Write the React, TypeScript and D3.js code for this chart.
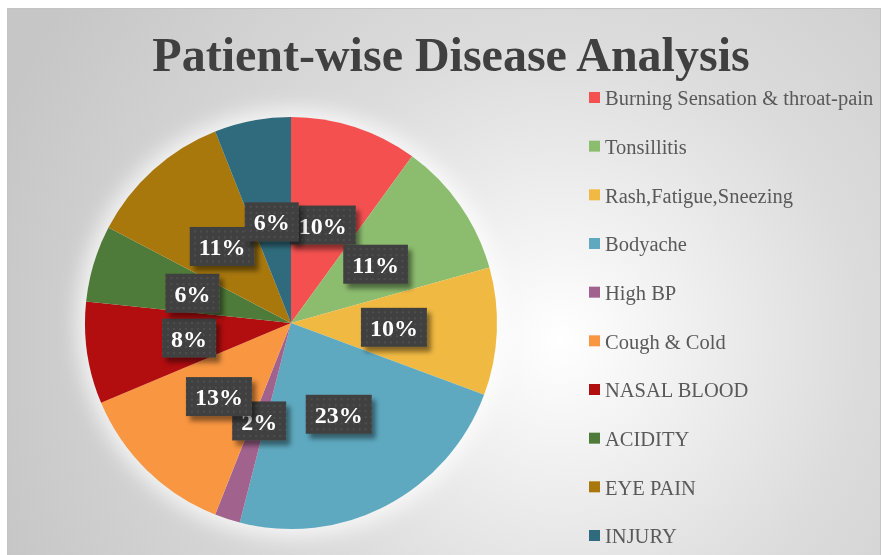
import React, { useEffect, useRef } from 'react'
import * as d3 from 'd3'

// patient counts per disease
const diseases = [
  'Burning Sensation & throat-pain',
  'Tonsillitis',
  'Rash,Fatigue,Sneezing',
  'Bodyache',
  'High BP',
  'Cough & Cold',
  'NASAL BLOOD',
  'ACIDITY',
  'EYE PAIN',
  'INJURY',
]
const patients = [15, 16, 15, 35, 3, 19, 12, 9, 17, 9]
const colors = [
  '#F45050', '#8CBD6F', '#F0B942', '#5EA9C0', '#A2628E',
  '#F89641', '#B20D0F', '#4F7B3A', '#A8780D', '#2F6B7C',
]

const title = 'Patient-wise Disease Analysis'

const W = 883
const H = 555

const App = () => {
  const ref = useRef<SVGSVGElement>(null)

  useEffect(() => {
    const svg = d3.select(ref.current)
    svg.selectAll('*').remove()

    const defs = svg.append('defs')
    const bg = defs.append('radialGradient')
      .attr('id', 'bg')
      .attr('gradientUnits', 'userSpaceOnUse')
      .attr('cx', 560).attr('cy', 340).attr('r', 600)
    bg.append('stop').attr('offset', 0).attr('stop-color', '#ffffff')
    bg.append('stop').attr('offset', 0.5).attr('stop-color', '#dcdcdc')
    bg.append('stop').attr('offset', 1).attr('stop-color', '#c6c6c6')

    const glow = defs.append('filter').attr('id', 'glow')
      .attr('x', '-30%').attr('y', '-30%').attr('width', '160%').attr('height', '160%')
    glow.append('feGaussianBlur').attr('stdDeviation', 10)

    const shadow = defs.append('filter').attr('id', 'shadow')
      .attr('x', '-30%').attr('y', '-30%').attr('width', '170%').attr('height', '170%')
    shadow.append('feDropShadow')
      .attr('dx', 4).attr('dy', 5).attr('stdDeviation', 2.5)
      .attr('flood-color', '#000').attr('flood-opacity', 0.45)

    const dots = defs.append('pattern').attr('id', 'dots')
      .attr('patternUnits', 'userSpaceOnUse').attr('width', 6).attr('height', 6)
    dots.append('rect').attr('width', 6).attr('height', 6).attr('fill', '#404040')
    dots.append('circle').attr('cx', 3).attr('cy', 3).attr('r', 0.9).attr('fill', '#555555')

    // chart area
    svg.append('rect')
      .attr('x', 7.5).attr('y', 8.5).attr('width', 873).attr('height', 560)
      .attr('fill', 'url(#bg)').attr('stroke', '#c4c4c4')

    svg.append('text')
      .attr('x', 451).attr('y', 71)
      .attr('text-anchor', 'middle')
      .attr('font-family', '"Liberation Serif", serif')
      .attr('font-weight', 'bold')
      .attr('font-size', 48)
      .attr('fill', '#404040')
      .text(title)

    const cx = 291, cy = 323, radius = 206
    const total = d3.sum(patients)

    const pie = d3.pie<number>().sort(null).value(d => d)
    const arc = d3.arc<d3.PieArcDatum<number>>().innerRadius(0).outerRadius(radius)
    const labelArc = d3.arc<d3.PieArcDatum<number>>().innerRadius(radius / 2).outerRadius(radius / 2)
    const arcs = pie(patients)

    const g = svg.append('g').attr('transform', 'translate(' + cx + ',' + cy + ')')

    // soft white halo behind the pie
    g.append('circle').attr('r', radius + 8).attr('fill', '#ffffff')
      .attr('opacity', 0.75).attr('filter', 'url(#glow)')

    g.selectAll('path.slice').data(arcs).enter().append('path')
      .attr('class', 'slice')
      .attr('d', arc)
      .attr('fill', (d, i) => colors[i])

    arcs.forEach(d => {
      const [lx, ly] = labelArc.centroid(d)
      const lg = g.append('g').attr('transform', 'translate(' + lx + ',' + ly + ')')
      const box = lg.append('rect').attr('fill', 'url(#dots)').attr('filter', 'url(#shadow)')
      const t = lg.append('text')
        .attr('text-anchor', 'middle')
        .attr('dy', '0.36em')
        .attr('font-family', '"Liberation Serif", serif')
        .attr('font-weight', 'bold')
        .attr('font-size', 24)
        .attr('fill', '#ffffff')
        .text(Math.round((d.value / total) * 100) + '%')
      const w = (t.node() as SVGTextElement).getComputedTextLength() + 18
      box.attr('x', -w / 2).attr('y', -19.5).attr('width', w).attr('height', 39)
    })

    // legend
    const legendY = d3.scalePoint<string>().domain(diseases).range([98, 536])
    const leg = svg.append('g')
    diseases.forEach((name, i) => {
      const y = legendY(name) as number
      leg.append('rect')
        .attr('x', 589).attr('y', y - 6).attr('width', 11).attr('height', 11)
        .attr('fill', colors[i])
      leg.append('text')
        .attr('x', 605).attr('y', y)
        .attr('dy', '0.35em')
        .attr('font-family', '"Liberation Serif", serif')
        .attr('font-size', 20.5)
        .attr('fill', '#595959')
        .text(name)
    })
  }, [])

  return (
    <svg
      ref={ref}
      width={W}
      height={H}
      style={{ position: 'fixed', left: 0, top: 0 }}
    ></svg>
  )
}

export default App
